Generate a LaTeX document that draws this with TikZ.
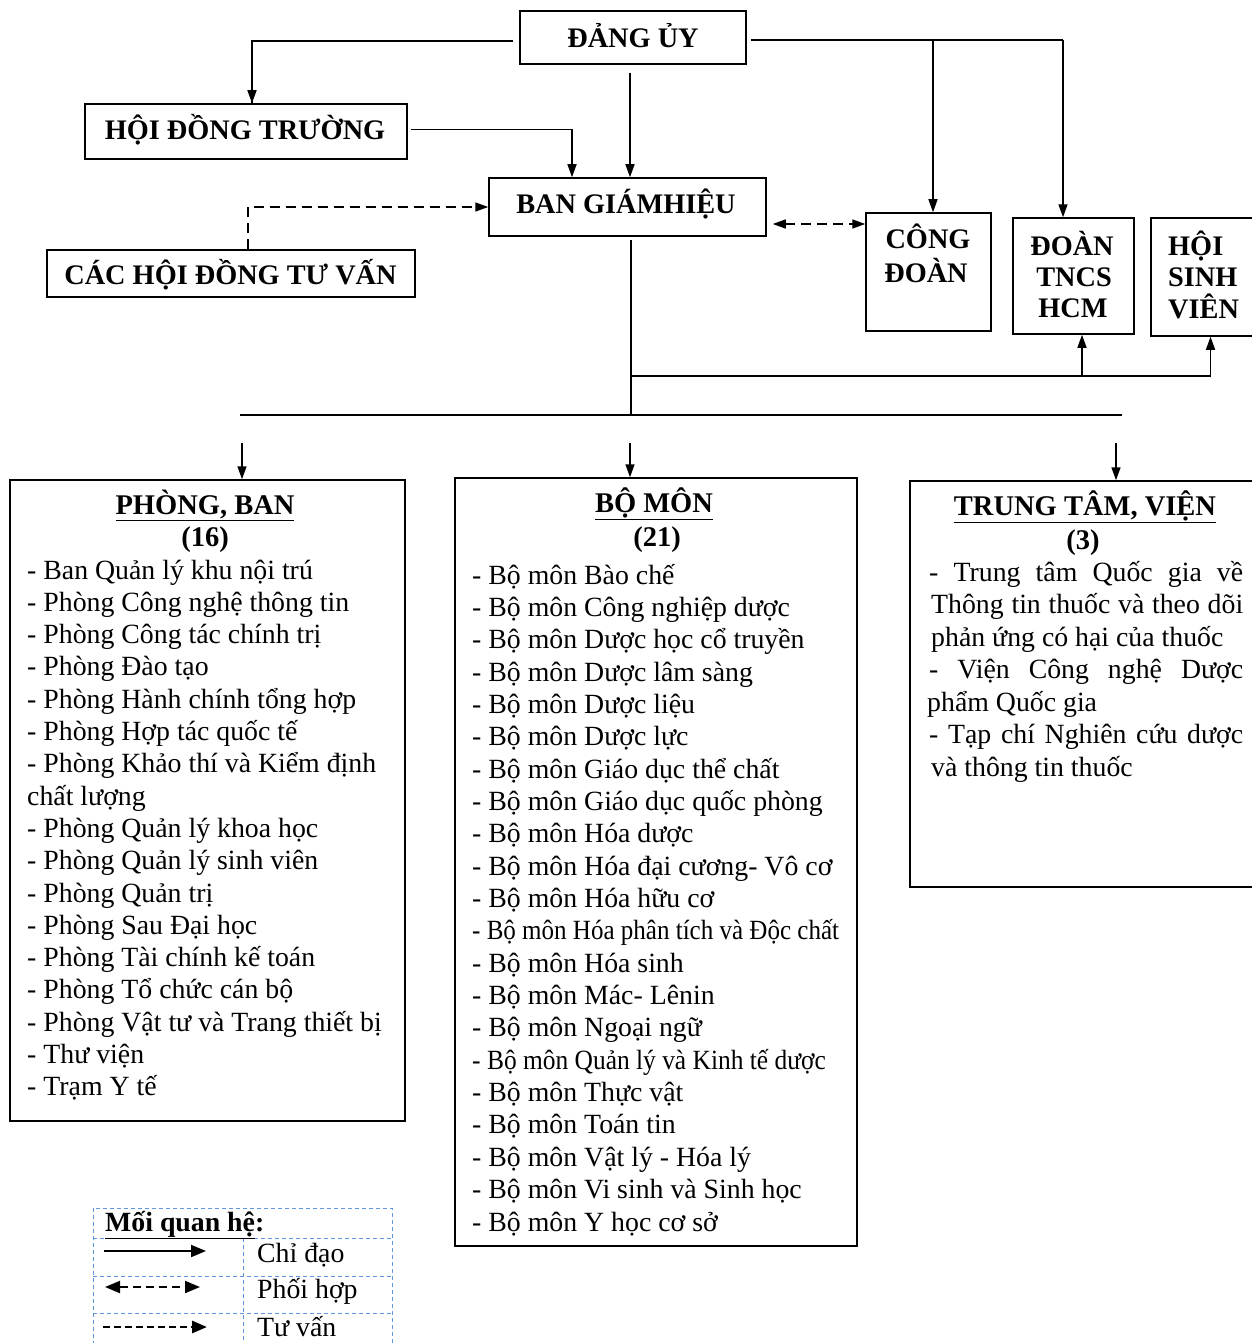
\documentclass[tikz,border=0pt]{standalone}
\usepackage{fontspec}
\setmainfont{Liberation Serif}
\usetikzlibrary{arrows.meta}
\definecolor{gridblue}{RGB}{95,150,225}
\begin{document}
\begin{tikzpicture}[x=1pt,y=-1pt,
  box/.style={draw, line width=1.5pt, inner sep=0pt},
  lbl/.style={font=\fontsize{28.3}{32}\selectfont\bfseries, inner sep=0pt, anchor=base},
  ttl/.style={font=\fontsize{28.5}{32}\selectfont\bfseries, inner sep=0pt, anchor=base},
  itm/.style={font=\fontsize{27.8}{32}\selectfont, inner sep=0pt, anchor=base west},
  ln/.style={line width=1.5pt},
  arr/.style={line width=1.5pt, -{Triangle[length=13pt,width=9pt]}},
  dbl/.style={line width=1.5pt, {Triangle[length=13pt,width=9pt]}-{Triangle[length=13pt,width=9pt]}},
  dsh/.style={dash pattern=on 10pt off 6pt},
  grid/.style={draw=gridblue, line width=1pt, dash pattern=on 4pt off 3pt},
  lgarr/.style={line width=2pt, -{Triangle[length=15pt,width=12pt]}},
  lgdbl/.style={line width=2pt, {Triangle[length=15pt,width=12pt]}-{Triangle[length=15pt,width=12pt]}}
]
\useasboundingbox (0,0) rectangle (1252,1343);
\clip (0,0) rectangle (1252,1343);

% top boxes
\node[box, minimum width=226, minimum height=53] (du) at (633,37.5) {};
\node[lbl] (dut) at (633,48) {ĐẢNG ỦY};
\node[box, minimum width=322, minimum height=55] (hdt) at (246,131.5) {};
\node[lbl] (hdtt) at (245,140) {HỘI ĐỒNG TRƯỜNG};
\node[box, minimum width=277, minimum height=58] (bgh) at (627.5,207) {};
\node[lbl] (bght) at (626,213) {BAN GIÁMHIỆU};
\node[box, minimum width=368, minimum height=47] (chd) at (231,273.5) {};
\node[lbl] (chdt) at (230.5,284) {CÁC HỘI ĐỒNG TƯ VẤN};

\node[box, minimum width=125, minimum height=118] (cd) at (928.5,272) {};
\node[lbl] (cd1) at (928,248) {CÔNG};
\node[lbl] (cd2) at (926,282) {ĐOÀN};
\node[box, minimum width=121, minimum height=116] (dt) at (1073.5,276) {};
\node[lbl] (dt1) at (1072,255) {ĐOÀN};
\node[lbl] (dt2) at (1074,286) {TNCS};
\node[lbl] (dt3) at (1073,317) {HCM};
\node[box, minimum width=119, minimum height=118] (hsv) at (1210.5,277) {};
\node[lbl, anchor=base west] (hsv1) at (1168,255) {HỘI};
\node[lbl, anchor=base west] (hsv2) at (1168,286) {SINH};
\node[lbl, anchor=base west] (hsv3) at (1168,318) {VIÊN};

% connectors at top
\draw[ln] (du.west) ++(-6,3.5) -| ([xshift=6pt]hdt.north);
\draw[arr] ([xshift=6pt]hdt.north) ++(0,-60) -- ([xshift=6pt]hdt.north);
\draw[arr] (hdt.east) ++(3,-2) -| ([xshift=-55.5pt]bgh.north);
\draw[arr] ([xshift=-3pt]du.south) ++(0,8) -- ([xshift=2.5pt]bgh.north);
\coordinate (j1) at (933,40);
\coordinate (j2) at (1063,40);
\draw[ln] (du.east |- j1) ++(4,0) -- (j2);
\draw[arr] (j1) -- (j1 |- cd.north);
\draw[arr] (j2) -- (j2 |- dt.north);
\draw[ln, dsh, -{Triangle[length=13pt,width=9pt]}] ([xshift=17pt]chd.north) |- (bgh.west);
\coordinate (dd) at (0,224);
\draw[dbl, dsh] (bgh.east |- dd) ++(6,0) -- (cd.west |- dd);

% bus
\coordinate (bj) at (631,376);
\coordinate (busL) at (240,415);
\coordinate (busR) at (1122,415);
\draw[ln] (bj |- bgh.south) ++(0,3) -- (bj |- busL);
\draw[ln] (busL) -- (busR);
\draw[arr] (bj) -| (hsv.south);
\coordinate (k1) at (1082,376);
\draw[arr] (k1) -- (k1 |- dt.south);

% lower boxes
\node[box, minimum width=395, minimum height=641] (pb) at (207.5,800.5) {};
\node[box, minimum width=402, minimum height=768] (bm) at (656,862) {};
\node[box, minimum width=352, minimum height=406] (tt) at (1086,684) {};
\coordinate (a1) at (242,443);
\coordinate (a2) at (630,443);
\coordinate (a3) at (1116,443);
\draw[arr] (a1) -- (a1 |- pb.north);
\draw[arr] (a2) -- (a2 |- bm.north);
\draw[arr] (a3) -- (a3 |- tt.north);

% Phong ban
\node[ttl] (pbt) at (205,514) {\underline{PHÒNG, BAN}};
\node[ttl] (pbn) at (205,546) {(16)};
\foreach \t [count=\i from 0] in {- Ban Quản lý khu nội trú, - Phòng Công nghệ thông tin, - Phòng Công tác chính trị, - Phòng Đào tạo, - Phòng Hành chính tổng hợp, - Phòng Hợp tác quốc tế, - Phòng Khảo thí và Kiểm định, chất lượng, - Phòng Quản lý khoa học, - Phòng Quản lý sinh viên, - Phòng Quản trị, - Phòng Sau Đại học, - Phòng Tài  chính kế toán, - Phòng Tổ chức cán bộ, - Phòng Vật tư và Trang thiết bị, - Thư viện, - Trạm  Y tế}
  \node[itm] (pbi\i) at (27,{579+32.3*\i}) {\t};

% Bo mon
\node[ttl] (bmt) at (654,512) {\underline{BỘ MÔN}};
\node[ttl] (bmn) at (657,546) {(21)};
\foreach \t [count=\i from 0] in {- Bộ môn Bào chế, - Bộ môn Công nghiệp dược, - Bộ môn Dược học cổ truyền, - Bộ môn Dược lâm sàng, - Bộ môn Dược liệu, - Bộ môn Dược lực, - Bộ môn Giáo dục thể chất, - Bộ môn Giáo dục quốc phòng, - Bộ môn Hóa dược, - Bộ môn Hóa đại cương- Vô cơ, - Bộ môn Hóa hữu cơ, \scalebox{0.9}[1]{- Bộ môn Hóa phân tích và Độc chất}, - Bộ môn Hóa sinh, - Bộ môn Mác- Lênin, - Bộ môn Ngoại ngữ, \scalebox{0.915}[1]{- Bộ môn Quản lý và Kinh tế dược}, - Bộ môn Thực vật, - Bộ môn Toán tin, - Bộ môn Vật lý - Hóa lý, - Bộ môn Vi sinh và Sinh học, - Bộ môn Y học cơ sở}
  \node[itm] (bmi\i) at (472,{584+32.35*\i}) {\t};

% Trung tam
\node[ttl] (ttt) at (1085,515) {\underline{TRUNG TÂM, VIỆN}};
\node[ttl] (ttn) at (1083,549) {(3)};
\node[itm] (tt0) at (929,581) {\makebox[314pt][s]{- Trung tâm Quốc gia về}};
\node[itm] (tt1) at (931,613.5) {\makebox[312pt][s]{Thông tin thuốc và theo dõi}};
\node[itm] (tt2) at (931,646) {phản ứng có hại của thuốc};
\node[itm] (tt3) at (929,678.5) {\makebox[314pt][s]{- Viện Công nghệ Dược}};
\node[itm] (tt4) at (927,711) {phẩm Quốc gia};
\node[itm] (tt5) at (929,743.5) {\makebox[314pt][s]{- Tạp chí Nghiên cứu dược}};
\node[itm] (tt6) at (931,776) {và thông tin thuốc};

% legend
\draw[grid] (93,1208) rectangle (392,1350);
\draw[grid] (93,1238) -- (392,1238);
\draw[grid] (93,1276) -- (392,1276);
\draw[grid] (93,1313) -- (392,1313);
\draw[grid] (243,1238) -- (243,1350);
\node[itm, font=\fontsize{27.8}{32}\selectfont\bfseries] (lgt) at (105,1231) {\underline{Mối quan hệ}:};
\node[itm] (lg1) at (257,1262) {Chỉ đạo};
\node[itm] (lg2) at (257,1298) {Phối hợp};
\node[itm] (lg3) at (257,1336) {Tư vấn};
\coordinate (l1a) at (104,1251); \coordinate (l1b) at (206,1251);
\coordinate (l2a) at (105,1287); \coordinate (l2b) at (200,1287);
\coordinate (l3a) at (103,1327); \coordinate (l3b) at (207,1327);
\draw[lgarr] (l1a) -- (l1b);
\draw[lgdbl, dash pattern=on 8pt off 5pt] (l2a) -- (l2b);
\draw[lgarr, line width=2.8pt, dash pattern=on 7pt off 4pt] (l3a) -- (l3b);
\end{tikzpicture}
\end{document}
